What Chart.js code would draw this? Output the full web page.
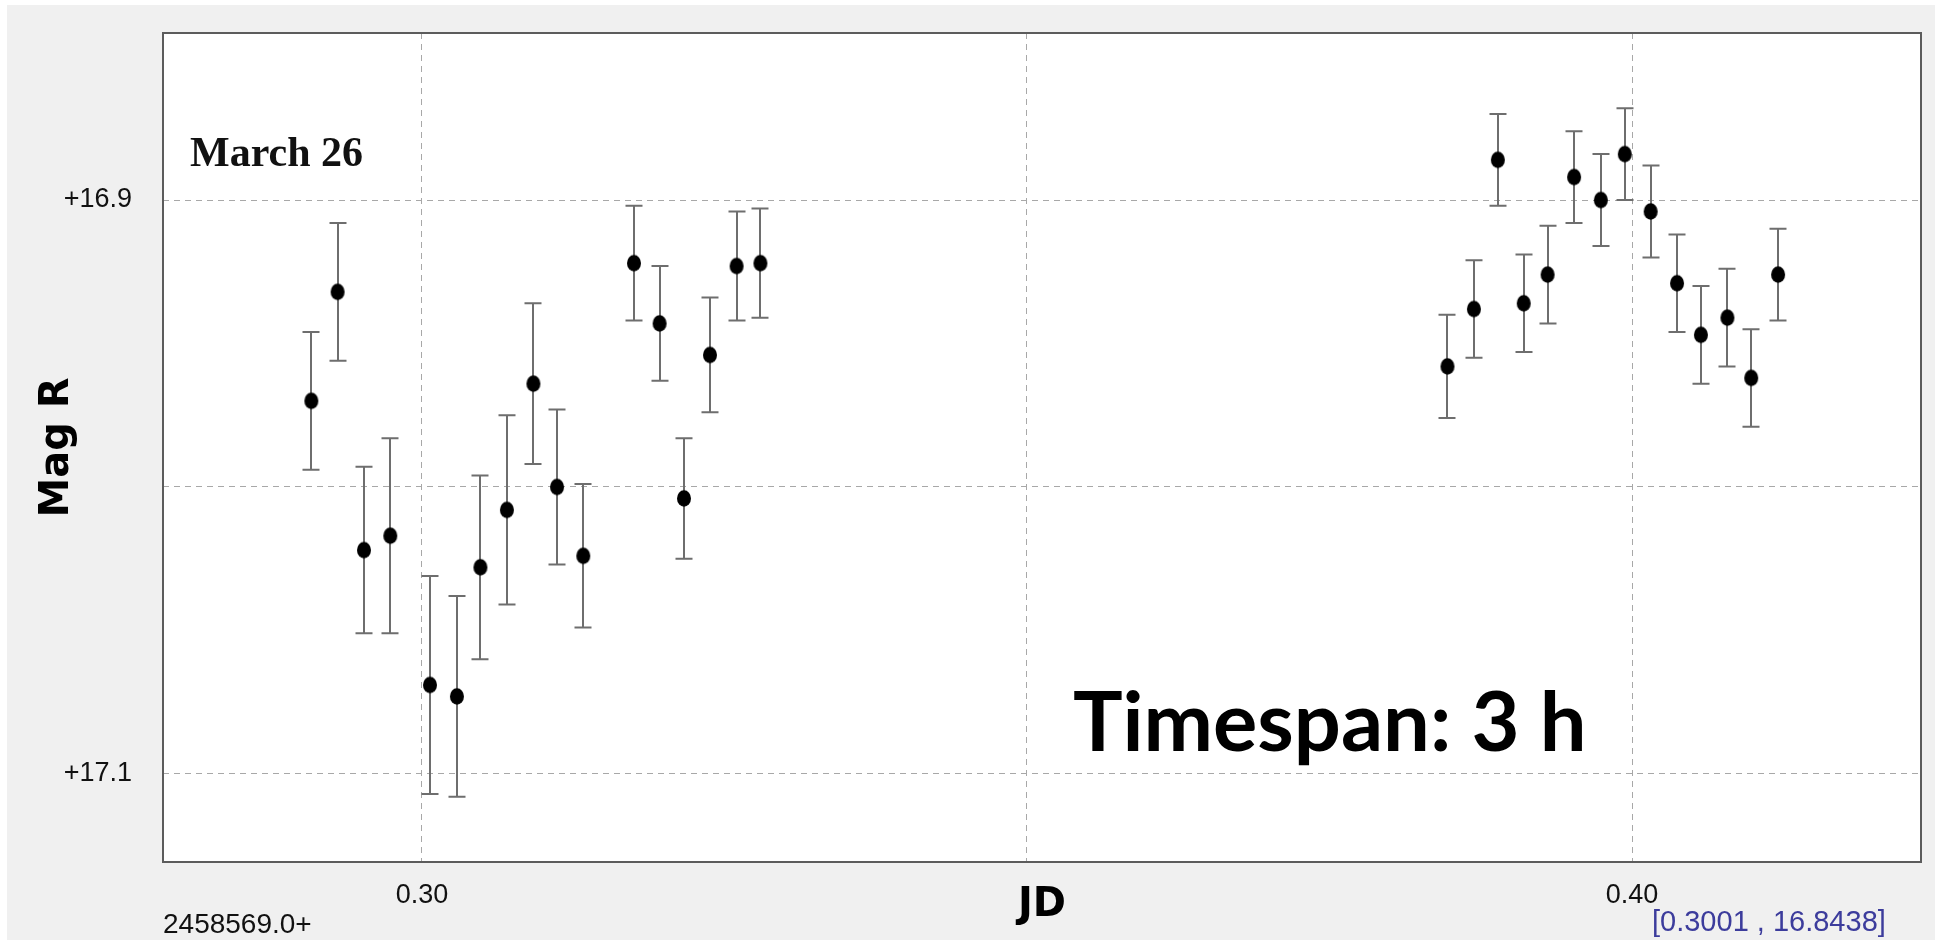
<!DOCTYPE html>
<html>
<head>
<meta charset="utf-8">
<script src="https://cdn.jsdelivr.net/npm/chart.js@4.4.1/dist/chart.umd.min.js"></script>
<style>
  html, body { margin: 0; padding: 0; background: #ffffff; overflow: hidden; }
  #wrap { width: 1946px; height: 942px; position: relative; }
  canvas { display: block; }
</style>
</head>
<body>
<div id="wrap"><canvas id="lc" width="1946" height="942"></canvas></div>
<script>
// Light curve, R band, night of March 26 (JD 2458569.0 + fraction)
const jd = [
  0.29086, 0.29303, 0.29521, 0.29738, 0.30066, 0.30289, 0.30483, 0.30702, 0.30921,
  0.31116, 0.31333, 0.31752, 0.31964, 0.32165, 0.32380, 0.32600, 0.32797,
  0.38475, 0.38693, 0.38891, 0.39105, 0.39302, 0.39521, 0.39742, 0.39940,
  0.40154, 0.40372, 0.40569, 0.40788, 0.40985, 0.41207
];
const magR = [
  16.970, 16.932, 17.022, 17.017, 17.069, 17.073, 17.028, 17.008, 16.964,
  17.000, 17.024, 16.922, 16.943, 17.004, 16.954, 16.923, 16.922,
  16.958, 16.938, 16.886, 16.936, 16.926, 16.892, 16.900, 16.884,
  16.904, 16.929, 16.947, 16.941, 16.962, 16.926
];
const magErr = [
  0.024, 0.024, 0.029, 0.034, 0.038, 0.035, 0.032, 0.033, 0.028,
  0.027, 0.025, 0.020, 0.020, 0.021, 0.020, 0.019, 0.019,
  0.018, 0.017, 0.016, 0.017, 0.017, 0.016, 0.016, 0.016,
  0.016, 0.017, 0.017, 0.017, 0.017, 0.016
];

const xRange = [0.27860, 0.42388];
const yRange = [16.8418, 17.1307];
const xTickValues = [0.30, 0.35, 0.40];
const xTickLabels = ['0.30', '', '0.40'];
const yTickValues = [16.9, 17.0, 17.1];
const yTickLabels = ['+16.9', '', '+17.1'];

const jdBaseText = '2458569.0+';
const cursorText = '[0.3001 , 16.8438]';
const dateText = 'March 26';
const spanText = 'Timespan: 3 h';

const tickFont = '"Liberation Sans", Arial, sans-serif';

function labelFor(values, labels, v) {
  const i = values.findIndex(t => Math.abs(t - v) < 1e-9);
  return i >= 0 ? labels[i] : '';
}

// filled, slightly tall dot used as the point marker
function makeDot() {
  const c = document.createElement('canvas');
  c.width = 16; c.height = 19;
  const g = c.getContext('2d');
  g.fillStyle = '#000';
  g.beginPath();
  g.ellipse(8, 9.5, 7, 8.3, 0, 0, Math.PI * 2);
  g.fill();
  return c;
}

const panelPlugin = {
  id: 'panel',
  beforeDraw(chart) {
    const { ctx, chartArea: a } = chart;
    ctx.save();
    ctx.fillStyle = '#ffffff';
    ctx.fillRect(0, 0, chart.width, chart.height);
    ctx.fillStyle = '#f0f0f0';
    ctx.fillRect(7, 5, 1928, 935);
    ctx.fillStyle = '#ffffff';
    ctx.fillRect(a.left, a.top, a.right - a.left, a.bottom - a.top);
    ctx.restore();
  }
};

const errorBarPlugin = {
  id: 'errorBars',
  beforeDatasetsDraw(chart) {
    const { ctx, scales: { x, y } } = chart;
    ctx.save();
    // plot frame
    const a = chart.chartArea;
    ctx.strokeStyle = '#5c5c5c';
    ctx.lineWidth = 2;
    ctx.strokeRect(a.left, a.top, a.right - a.left, a.bottom - a.top);
    // error bars
    ctx.strokeStyle = '#6e6e6e';
    ctx.lineWidth = 2;
    const cap = 8.5;
    for (let i = 0; i < jd.length; i++) {
      const px = Math.round(x.getPixelForValue(jd[i]));
      const yTop = y.getPixelForValue(magR[i] - magErr[i]);
      const yBot = y.getPixelForValue(magR[i] + magErr[i]);
      ctx.beginPath();
      ctx.moveTo(px, yTop); ctx.lineTo(px, yBot);
      ctx.moveTo(px - cap, yTop); ctx.lineTo(px + cap, yTop);
      ctx.moveTo(px - cap, yBot); ctx.lineTo(px + cap, yBot);
      ctx.stroke();
    }
    ctx.restore();
  }
};

const notesPlugin = {
  id: 'notes',
  afterDraw(chart) {
    const { ctx, chartArea: a } = chart;
    ctx.save();
    ctx.textBaseline = 'alphabetic';
    ctx.textAlign = 'left';
    ctx.fillStyle = '#111';
    ctx.font = '28px ' + tickFont;
    ctx.fillText(jdBaseText, a.left, 933);
    ctx.fillStyle = '#3c3c9c';
    ctx.font = '29px "Liberation Sans", Arial, sans-serif';
    ctx.fillText(cursorText, 1652, 931);
    ctx.fillStyle = '#111';
    ctx.font = 'bold 42px "Liberation Serif", "Times New Roman", serif';
    ctx.fillText(dateText, 190, 166);
    ctx.fillStyle = '#000';
    ctx.font = 'bold 83px Lato, "Open Sans", sans-serif';
    ctx.fillText(spanText, 1073, 751);
    ctx.restore();
  }
};

const gridStyle = { color: '#a8a8a8', lineWidth: 1, drawTicks: false };

new Chart(document.getElementById('lc'), {
  type: 'scatter',
  data: {
    datasets: [{
      label: 'Mag R',
      data: jd.map((t, i) => ({ x: t, y: magR[i] })),
      pointStyle: makeDot(),
      pointRadius: 8,
      showLine: false
    }]
  },
  options: {
    responsive: false,
    animation: false,
    devicePixelRatio: 1,
    layout: { padding: { top: 33, right: 25, left: 0, bottom: 0 } },
    plugins: { legend: { display: false }, tooltip: { enabled: false } },
    scales: {
      x: {
        type: 'linear',
        min: xRange[0], max: xRange[1],
        afterBuildTicks: s => { s.ticks = xTickValues.map(v => ({ value: v })); },
        afterFit: s => { s.height = 80; s.paddingLeft = 0; s.paddingRight = 0; },
        grid: gridStyle,
        border: { display: false, dash: [6, 5] },
        ticks: {
          autoSkip: false, maxRotation: 0, padding: 17,
          color: '#111',
          font: { family: tickFont, size: 27 },
          callback: v => labelFor(xTickValues, xTickLabels, v)
        },
        title: {
          display: true, text: 'JD', color: '#000',
          font: { family: '"DejaVu Sans", Verdana, sans-serif', weight: 'bold', size: 40 },
          padding: { top: 0, bottom: 12 }
        }
      },
      y: {
        type: 'linear',
        reverse: true,
        min: yRange[0], max: yRange[1],
        afterBuildTicks: s => { s.ticks = yTickValues.map(v => ({ value: v })); },
        afterFit: s => { s.width = 163; s.paddingTop = 0; s.paddingBottom = 0; },
        grid: gridStyle,
        border: { display: false, dash: [6, 5] },
        ticks: {
          padding: 31,
          color: '#111',
          font: { family: tickFont, size: 27 },
          callback: v => labelFor(yTickValues, yTickLabels, v)
        },
        title: {
          display: true, text: 'Mag R', color: '#000',
          font: { family: '"DejaVu Sans", Verdana, sans-serif', weight: 'bold', size: 40 },
          padding: { top: 34, bottom: 0 }
        }
      }
    }
  },
  plugins: [panelPlugin, errorBarPlugin, notesPlugin]
});
</script>
</body>
</html>
